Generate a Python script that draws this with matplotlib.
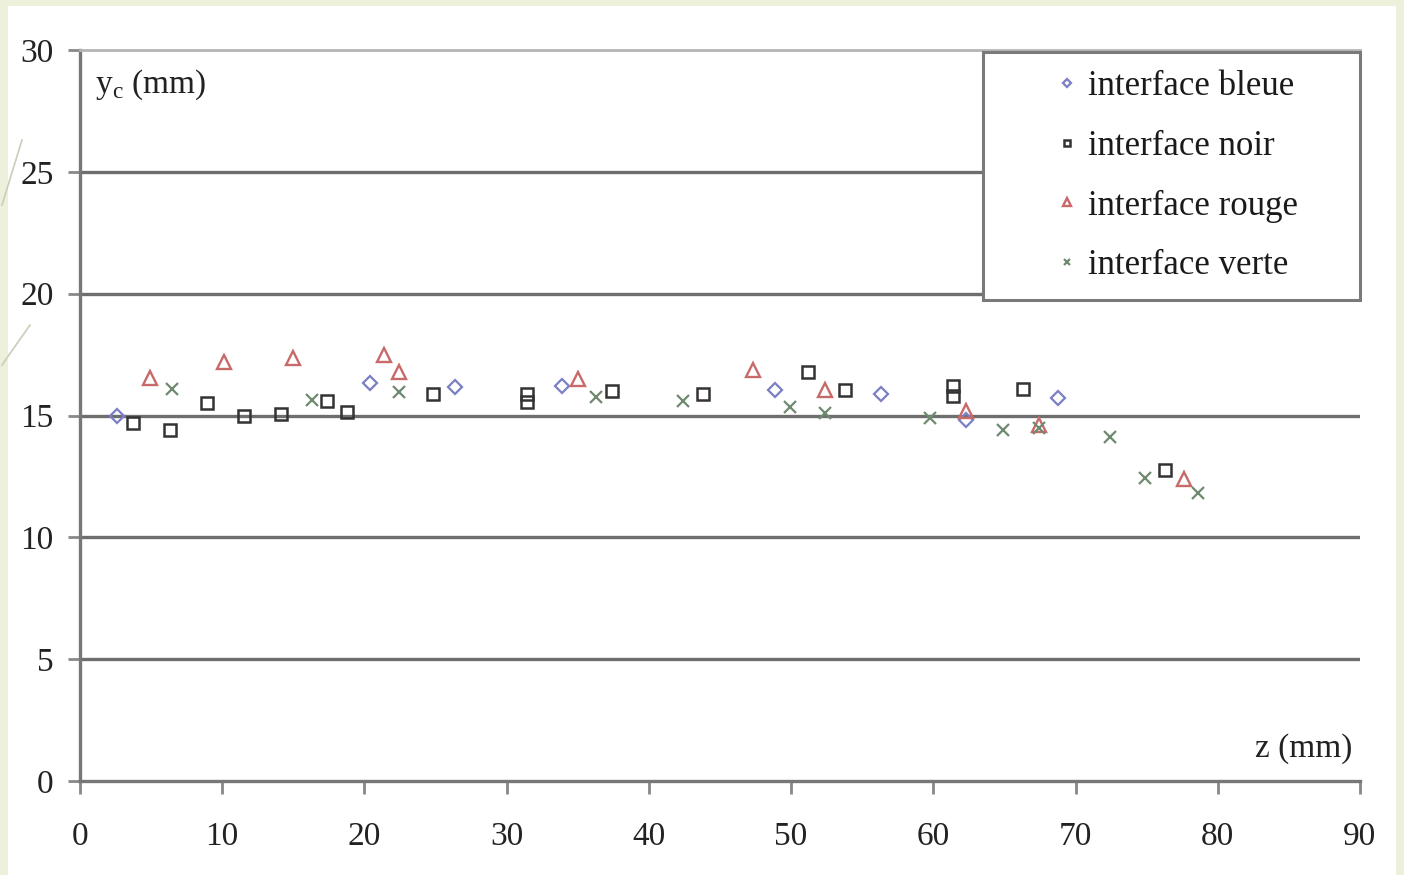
import matplotlib
matplotlib.use("Agg")
import matplotlib.pyplot as plt
from matplotlib.patches import Rectangle
from matplotlib.lines import Line2D

plt.rcParams['font.family'] = ['Liberation Serif', 'DejaVu Serif']
plt.rcParams['mathtext.fontset'] = 'custom'
plt.rcParams['mathtext.rm'] = 'Liberation Serif'

# Positions z (mm) and heights y (mm) measured along each interface
z_bleue = [2.6, 20.4, 26.4, 33.9, 48.9, 56.3, 62.3, 68.8]
y_bleue = [15.0, 16.35, 16.15, 16.2, 16.05, 15.9, 14.8, 15.7]

z_noir = [3.7, 6.3, 8.9, 11.5, 14.1, 17.4, 18.8, 24.8, 31.4, 31.4, 37.4,
          43.8, 51.2, 53.8, 61.4, 61.4, 66.3, 76.3]
y_noir = [14.7, 14.4, 15.5, 15.0, 15.05, 15.6, 15.15, 15.9, 15.9, 15.55, 16.0,
          15.9, 16.8, 16.05, 16.2, 15.8, 16.1, 12.75]

z_rouge = [4.9, 10.1, 15.0, 21.4, 22.4, 35.0, 47.3, 52.4, 62.3, 67.4, 77.6]
y_rouge = [16.55, 17.2, 17.35, 17.5, 16.8, 16.5, 16.85, 16.05, 15.2, 14.6, 12.4]

z_verte = [6.5, 16.3, 22.4, 36.3, 42.4, 49.9, 52.4, 59.8, 64.9, 67.4, 72.4,
           74.9, 78.6]
y_verte = [16.1, 15.65, 15.95, 15.75, 15.6, 15.35, 15.1, 14.9, 14.4, 14.5,
           14.1, 12.45, 11.8]

series_labels = ["interface bleue", "interface noir", "interface rouge",
                 "interface verte"]
x_ticks = [0, 10, 20, 30, 40, 50, 60, 70, 80, 90]
y_ticks = [0, 5, 10, 15, 20, 25, 30]

W, H = 1404, 875
fig = plt.figure(figsize=(W / 100, H / 100), dpi=100)
fig.patch.set_facecolor('#edf1dc')
fig.add_artist(Rectangle((8 / W, 0), (W - 16) / W, (H - 6) / H,
                         transform=fig.transFigure, facecolor='white',
                         edgecolor='none', zorder=0))
# faint slide decoration strokes on the left border
for (x0, y0, x1, y1) in [(2, 205, 22, 140), (2, 365, 30, 325)]:
    fig.add_artist(Line2D([x0 / W, x1 / W], [1 - y0 / H, 1 - y1 / H],
                          transform=fig.transFigure, color='#c8ceb8', lw=1.2))

ax = fig.add_axes([80 / W, 1 - 781 / H, 1280 / W, 731 / H])
ax.set_facecolor('white')
ax.set_xlim(0, 90)
ax.set_ylim(0, 30)

for y in y_ticks[1:-1]:
    ax.axhline(y, color='#6e6e6e', lw=2.4, zorder=1)

ax.spines['right'].set_visible(False)
ax.spines['top'].set_color('#b5b5b5')
ax.spines['top'].set_linewidth(2.0)
for s in ('left', 'bottom'):
    ax.spines[s].set_color('#777777')
    ax.spines[s].set_linewidth(2.4)

ax.set_xticks(x_ticks)
ax.set_yticks(y_ticks)
ax.tick_params(axis='both', direction='out', length=9, width=2,
               color='#888888', labelsize=24, labelcolor='#222222')
ax.tick_params(axis='x', pad=20)
ax.tick_params(axis='y', pad=10)

ax.plot(z_bleue, y_bleue, ls='none', marker='D', ms=7, mfc='none',
        mec='#7b7fc4', mew=1.6, label=series_labels[0], zorder=3)
ax.plot(z_noir, y_noir, ls='none', marker='s', ms=9, mfc='none',
        mec='#333333', mew=1.8, label=series_labels[1], zorder=3)
ax.plot(z_rouge, y_rouge, ls='none', marker='^', ms=10, mfc='none',
        mec='#c86a6a', mew=1.7, label=series_labels[2], zorder=3)
ax.plot(z_verte, y_verte, ls='none', marker='x', ms=8, mfc='none',
        mec='#6f8a6f', mew=1.6, label=series_labels[3], zorder=3)

ax.text(0.012, 0.953, r"y$_\mathregular{c}$ (mm)", transform=ax.transAxes,
        fontsize=24, color='#222222', va='center', ha='left')
ax.text(0.994, 0.045, "z (mm)", transform=ax.transAxes,
        fontsize=24, color='#222222', va='center', ha='right')

# legend box spanning a fixed region in the upper right of the axes
lx0 = (983 - 80) / 1280
lw = 377 / 1280
ltop = (781 - 52) / 731
lh = 244 / 731
leg = ax.legend(loc='upper left', bbox_to_anchor=(lx0, ltop - lh, lw, lh),
                mode='expand', borderaxespad=0, fancybox=False, frameon=True,
                framealpha=1.0, fontsize=25, markerscale=0.55,
                handlelength=3.8, handletextpad=-1.3, labelspacing=0.77,
                borderpad=0.52)
leg.get_frame().set_edgecolor('#7a7a7a')
leg.get_frame().set_linewidth(2.2)
leg.get_frame().set_facecolor('white')
for t in leg.get_texts():
    t.set_color('#1a1a1a')

fig.savefig("out.png", dpi=100, facecolor=fig.get_facecolor())
